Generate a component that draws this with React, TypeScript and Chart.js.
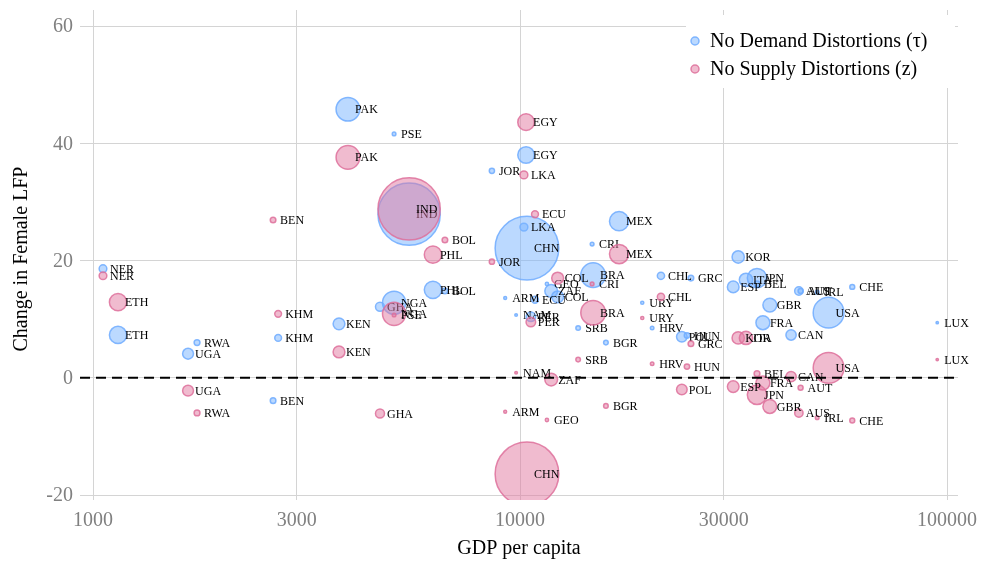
import { useEffect, useRef } from 'react';
import { Chart, registerables } from 'chart.js';

Chart.register(...registerables);

// Country codes, GDP per capita, population (millions)
const countries = [
  'NER', 'ETH', 'RWA', 'UGA', 'KHM', 'BEN', 'KEN', 'PAK', 'GHA', 'NGA',
  'PSE', 'IND', 'PHL', 'BOL', 'JOR', 'ARM', 'NAM', 'EGY', 'LKA', 'CHN',
  'ECU', 'PER', 'GEO', 'ZAF', 'COL', 'SRB', 'CRI', 'BRA', 'BGR', 'MEX',
  'URY', 'HRV', 'CHL', 'POL', 'HUN', 'GRC', 'ESP', 'KOR', 'ITA', 'JPN',
  'BEL', 'FRA', 'GBR', 'CAN', 'AUS', 'AUT', 'IRL', 'USA', 'CHE', 'LUX',
];

const gdpPerCapita = [
  1055, 1144, 1752, 1669, 2713, 2640, 3767, 3953, 4699, 5070,
  5070, 5498, 6252, 6669, 8592, 9230, 9790, 10330, 10210, 10380,
  10840, 10600, 11560, 11830, 12250, 13680, 14750, 14830, 15890, 17060,
  19330, 20390, 21380, 23930, 24600, 25130, 31570, 32430, 33820, 35890,
  35890, 37050, 38460, 43130, 44980, 45400, 49650, 52800, 59990, 94860,
];

const population = [
  20, 100, 11.5, 40, 15.5, 10.6, 47, 190, 27.5, 181,
  4.5, 1310, 101, 10.7, 9.3, 2.9, 2.4, 93, 21, 1370,
  16, 31, 3.7, 55, 48, 7.1, 4.8, 205, 7.2, 125,
  3.4, 4.2, 17.8, 38, 9.8, 10.8, 46, 51, 60, 127,
  11.3, 66, 65, 36, 23.8, 8.6, 4.6, 321, 8.3, 0.57,
];

// Change in female LFP without demand distortions (tau)
const demandChange = [
  18.6, 7.3, 6.0, 4.1, 6.8, -3.9, 9.2, 45.8, 12.1, 12.8,
  41.6, 27.9, 15.0, 14.8, 35.3, 13.6, 10.7, 38.0, 25.7, 22.1,
  13.3, 10.4, 16.0, 14.8, 13.8, 8.5, 22.8, 17.5, 6.0, 26.7,
  12.8, 8.5, 17.4, 7.0, 7.2, 17.0, 15.5, 20.6, 16.7, 17.0,
  16.0, 9.4, 12.4, 7.3, 14.8, 14.8, 14.6, 11.1, 15.5, 9.4,
];

// Change in female LFP without supply distortions (z)
const supplyChange = [
  17.4, 12.9, -6.0, -2.2, 10.9, 26.9, 4.4, 37.6, -6.1, 10.9,
  10.7, 28.8, 21.0, 23.5, 19.8, -5.8, 0.85, 43.6, 34.6, -16.4,
  27.9, 9.5, -7.2, -0.3, 17.0, 3.1, 16.0, 11.1, -4.8, 21.1,
  10.2, 2.4, 13.8, -2.0, 1.9, 5.8, -1.5, 6.8, 6.8, -2.9,
  0.7, -0.9, -4.9, 0.2, -6.0, -1.7, -6.8, 1.7, -7.3, 3.1,
];

const xTicks = [1000, 3000, 10000, 30000, 100000];
const yTicks = [-20, 0, 20, 40, 60];
const seriesNames = ['No Demand Distortions (τ)', 'No Supply Distortions (z)'];

const SERIF = '"Liberation Serif", "Times New Roman", serif';
const BLUE_FILL = 'rgba(120,180,255,0.5)';
const BLUE_LINE = 'rgba(110,172,255,0.85)';
const PINK_FILL = 'rgba(225,120,160,0.5)';
const PINK_LINE = 'rgba(222,112,155,0.85)';

const bubbleRadius = (pop: number) => Math.max(1.2, 0.86 * Math.sqrt(pop));

const points = (values: number[]) =>
  countries.map((_, i) => ({ x: gdpPerCapita[i], y: values[i], r: bubbleRadius(population[i]) }));

const countryLabels = {
  id: 'countryLabels',
  afterDatasetDraw(chart: any, args: any) {
    const { ctx } = chart;
    ctx.save();
    ctx.font = `12px ${SERIF}`;
    ctx.fillStyle = '#000';
    ctx.textAlign = 'left';
    ctx.textBaseline = 'middle';
    args.meta.data.forEach((el: any, i: number) => {
      ctx.fillText(countries[i], el.x + 7, el.y + 1);
    });
    ctx.restore();
  },
};

const decorations = {
  id: 'decorations',
  afterDatasetsDraw(chart: any) {
    const { ctx, chartArea, scales } = chart;
    const y0 = scales.y.getPixelForValue(0);
    ctx.save();
    ctx.strokeStyle = '#000';
    ctx.lineWidth = 2;
    ctx.setLineDash([10, 6]);
    ctx.beginPath();
    ctx.moveTo(chartArea.left, y0);
    ctx.lineTo(chartArea.right, y0);
    ctx.stroke();
    ctx.restore();
  },
  afterDraw(chart: any) {
    const { ctx, chartArea, scales } = chart;
    ctx.save();
    // tick labels
    ctx.fillStyle = '#808080';
    ctx.font = `20px ${SERIF}`;
    ctx.textBaseline = 'middle';
    ctx.textAlign = 'right';
    yTicks.forEach((v) => ctx.fillText(String(v), chartArea.left - 7, scales.y.getPixelForValue(v) + 1));
    ctx.textAlign = 'center';
    xTicks.forEach((v) => ctx.fillText(String(v), scales.x.getPixelForValue(v), chartArea.bottom + 21));

    // axis titles
    ctx.fillStyle = '#000';
    ctx.font = `20px ${SERIF}`;
    ctx.textAlign = 'center';
    ctx.fillText('GDP per capita', (chartArea.left + chartArea.right) / 2, 549);
    ctx.save();
    ctx.translate(22, 259);
    ctx.rotate(-Math.PI / 2);
    ctx.fillText('Change in Female LFP', 0, 0);
    ctx.restore();

    // legend
    ctx.fillStyle = '#fff';
    ctx.fillRect(686, 15, 269, 73);
    const items = [
      { text: seriesNames[0], fill: BLUE_FILL, line: BLUE_LINE, y: 41 },
      { text: seriesNames[1], fill: PINK_FILL, line: PINK_LINE, y: 69 },
    ];
    items.forEach((it) => {
      ctx.beginPath();
      ctx.arc(695, it.y, 4, 0, Math.PI * 2);
      ctx.fillStyle = it.fill;
      ctx.fill();
      ctx.lineWidth = 1.5;
      ctx.strokeStyle = it.line;
      ctx.stroke();
      ctx.fillStyle = '#000';
      ctx.textAlign = 'left';
      ctx.fillText(it.text, 710, it.y + 1);
    });
    ctx.restore();
  },
};

export default function App() {
  const canvasRef = useRef<HTMLCanvasElement | null>(null);

  useEffect(() => {
    if (!canvasRef.current) return;
    const chart = new Chart(canvasRef.current, {
      type: 'bubble',
      data: {
        datasets: [
          {
            label: seriesNames[0],
            data: points(demandChange),
            backgroundColor: BLUE_FILL,
            borderColor: BLUE_LINE,
            borderWidth: 1.5,
            order: 2,
          },
          {
            label: seriesNames[1],
            data: points(supplyChange),
            backgroundColor: PINK_FILL,
            borderColor: PINK_LINE,
            borderWidth: 1.5,
            order: 1,
          },
        ],
      },
      options: {
        responsive: false,
        animation: false,
        devicePixelRatio: 1,
        layout: { autoPadding: false, padding: { top: 10, right: 33, left: 0, bottom: 0 } },
        plugins: { legend: { display: false }, tooltip: { enabled: false } },
        scales: {
          x: {
            type: 'logarithmic',
            min: 932,
            max: 106100,
            afterBuildTicks: (scale: any) => {
              scale.ticks = xTicks.map((v) => ({ value: v }));
            },
            afterFit: (scale: any) => {
              scale.height = 62;
            },
            ticks: { display: false },
            grid: { color: '#d4d4d4', lineWidth: 1, drawTicks: false },
            border: { display: false },
          },
          y: {
            type: 'linear',
            min: -20.85,
            max: 62.73,
            afterBuildTicks: (scale: any) => {
              scale.ticks = yTicks.map((v) => ({ value: v }));
            },
            afterFit: (scale: any) => {
              scale.width = 80;
            },
            ticks: { display: false },
            grid: { color: '#d4d4d4', lineWidth: 1, drawTicks: false },
            border: { display: false },
          },
        },
      },
      plugins: [countryLabels, decorations],
    } as any);
    return () => chart.destroy();
  }, []);

  return (
    <div style={{ position: 'fixed', left: 0, top: 0, width: 991, height: 562, background: '#fff' }}>
      <canvas ref={canvasRef} width={991} height={562} />
    </div>
  );
}
